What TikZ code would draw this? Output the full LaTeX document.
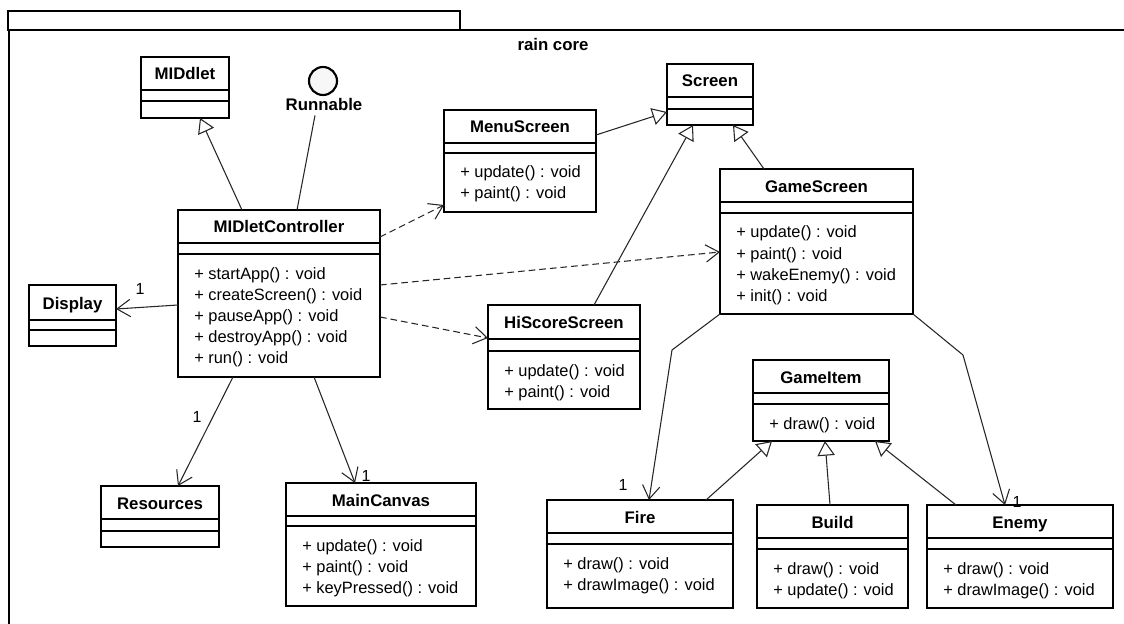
\documentclass[tikz,border=0pt]{standalone}
\usepackage{fontspec}
\setmainfont{Liberation Sans}
\usetikzlibrary{arrows.meta,calc,fit}

\tikzset{
  classbox/.style={draw, line width=1.6pt, inner sep=0pt, outer sep=0pt},
  sepline/.style={line width=1.1pt},
  classtitle/.style={font=\fontsize{12.6}{15}\selectfont\bfseries, anchor=base, inner sep=0pt},
  member/.style={font=\fontsize{12.3}{15}\selectfont, anchor=base west, inner sep=0pt},
  mult/.style={font=\fontsize{12}{14}\selectfont, inner sep=0pt},
  conn/.style={line width=0.8pt, draw=black!85},
  realize/.style={conn, -{Triangle[length=11pt, width=13pt, fill=white]}},
  assoc/.style={conn, -{Straight Barb[length=10pt, width=13pt]}},
  depend/.style={conn, dash pattern=on 5pt off 3pt, -{Straight Barb[length=10pt, width=13pt]}},
  frameline/.style={line width=1.5pt},
}

% name, left, top, right, bottom, first separator, second separator, title, operations
\newcommand\umlclass[9]{%
  \coordinate (#1-nw) at (#2,#3);
  \coordinate (#1-se) at (#4,#5);
  \node[classbox, fit=(#1-nw)(#1-se)] (#1) {};
  \node[classtitle] (#1-title) at ({(#2+#4)/2},{(#3+#6)/2+6.5}) {#8};
  \draw[sepline] (#2,#6) -- (#4,#6) (#2,#7) -- (#4,#7);
  \if\relax\detokenize{#9}\relax\else
    \foreach \m [count=\i] in {#9} {\node[member] (#1-m\i) at ({#2+16},{#7+25+(\i-1)*21}) {\m};}
  \fi
}

\begin{document}
\begin{tikzpicture}[x=0.75pt, y=-0.75pt]
\useasboundingbox (0,0) rectangle (1124,624);

% package frame
\draw[frameline] (8,11) rectangle (460,30);
\draw[frameline] (1124,30) -- (9,30) -- (9,624);
\node[font=\fontsize{12.6}{15}\selectfont\bfseries, anchor=base, inner sep=0pt] (pkg) at (553,51) {rain core};

% classes
\umlclass{middlet}{141}{57}{229}{118}{90}{101}{MIDdlet}{}
\umlclass{display}{29}{285}{116}{346}{320}{330}{Display}{}
\umlclass{resources}{101}{486}{219}{547}{519}{531}{Resources}{}
\umlclass{mc}{178}{210}{380}{377}{243}{254}{MIDletController}{+ startApp() : void, + createScreen() : void, + pauseApp() : void, + destroyApp() : void, + run() : void}
\umlclass{maincanvas}{286}{483}{476}{606}{516}{526}{MainCanvas}{+ update() : void, + paint() : void, + keyPressed() : void}
\umlclass{menu}{444}{110}{596}{212}{143}{153}{MenuScreen}{+ update() : void, + paint() : void}
\umlclass{screen}{667}{64}{753}{125}{97}{109}{Screen}{}
\umlclass{game}{720}{169}{913}{314}{202}{213}{GameScreen}{+ update() : void, + paint() : void, + wakeEnemy() : void, + init() : void}
\umlclass{hiscore}{488}{305}{640}{409}{339}{351}{HiScoreScreen}{+ update() : void, + paint() : void}
\umlclass{gameitem}{753}{360}{889}{441}{393}{404}{GameItem}{+ draw() : void}
\umlclass{fire}{547}{500}{733}{608}{533}{544}{Fire}{+ draw() : void, + drawImage() : void}
\umlclass{build}{757}{505}{908}{608}{538}{549}{Build}{+ draw() : void, + update() : void}
\umlclass{enemy}{927}{505}{1113}{608}{538}{549}{Enemy}{+ draw() : void, + drawImage() : void}

% interface lollipop
\node[circle, draw, line width=1.6pt, fill=black!3, minimum size=21pt, inner sep=0pt] (runnable) at (323,81) {};
\node[classtitle] (runlabel) at (324,111) {Runnable};

% bends
\coordinate (firebend) at (672,350);
\coordinate (enemybend) at (963,355);

% generalizations and realization
\draw[realize] ($(mc.north west)+(64,0)$) -- ($(middlet.south west)+(59,0)$);
\draw[conn] ($(mc.north west)+(119,0)$) -- ($(runlabel.south)+(-9,4)$);
\draw[realize] ($(menu.north east)+(0,25)$) -- ($(screen.north west)+(0,48)$);
\draw[realize] ($(hiscore.north west)+(106,0)$) -- ($(screen.south west)+(26,0)$);
\draw[realize] ($(game.north west)+(44,0)$) -- ($(screen.south west)+(66,0)$);
\draw[realize] ($(fire.north west)+(159,0)$) -- ($(gameitem.south west)+(19,0)$);
\draw[realize] ($(build.north west)+(73,0)$) -- ($(gameitem.south west)+(72,0)$);
\draw[realize] ($(enemy.north west)+(29,0)$) -- ($(gameitem.south west)+(122,0)$);

% dependencies
\draw[depend] ($(mc.north east)+(0,27)$) -- ($(menu.south west)+(0,-7)$);
\draw[depend] ($(mc.north east)+(0,75)$) -- ($(game.north west)+(0,83)$);
\draw[depend] ($(mc.north east)+(0,107)$) -- ($(hiscore.north west)+(0,33)$);

% associations
\draw[assoc] ($(mc.north west)+(0,95)$) -- ($(display.north east)+(0,24)$);
\draw[assoc] ($(mc.south west)+(55,0)$) -- ($(resources.north west)+(77,0)$);
\draw[assoc] ($(mc.south west)+(136,0)$) -- ($(maincanvas.north west)+(69,0)$);
\draw[assoc] (game.south west) -- (firebend) -- ($(fire.north west)+(102,0)$);
\draw[assoc] (game.south east) -- (enemybend) -- ($(enemy.north west)+(78,0)$);

% multiplicities
\node[mult] (mdisplay) at (140,289) {1};
\node[mult] (mresources) at (197,417) {1};
\node[mult] (mcanvas) at (366,476) {1};
\node[mult] (mfire) at (623,485) {1};
\node[mult] (menemy) at (1017,502) {1};
\end{tikzpicture}
\end{document}
